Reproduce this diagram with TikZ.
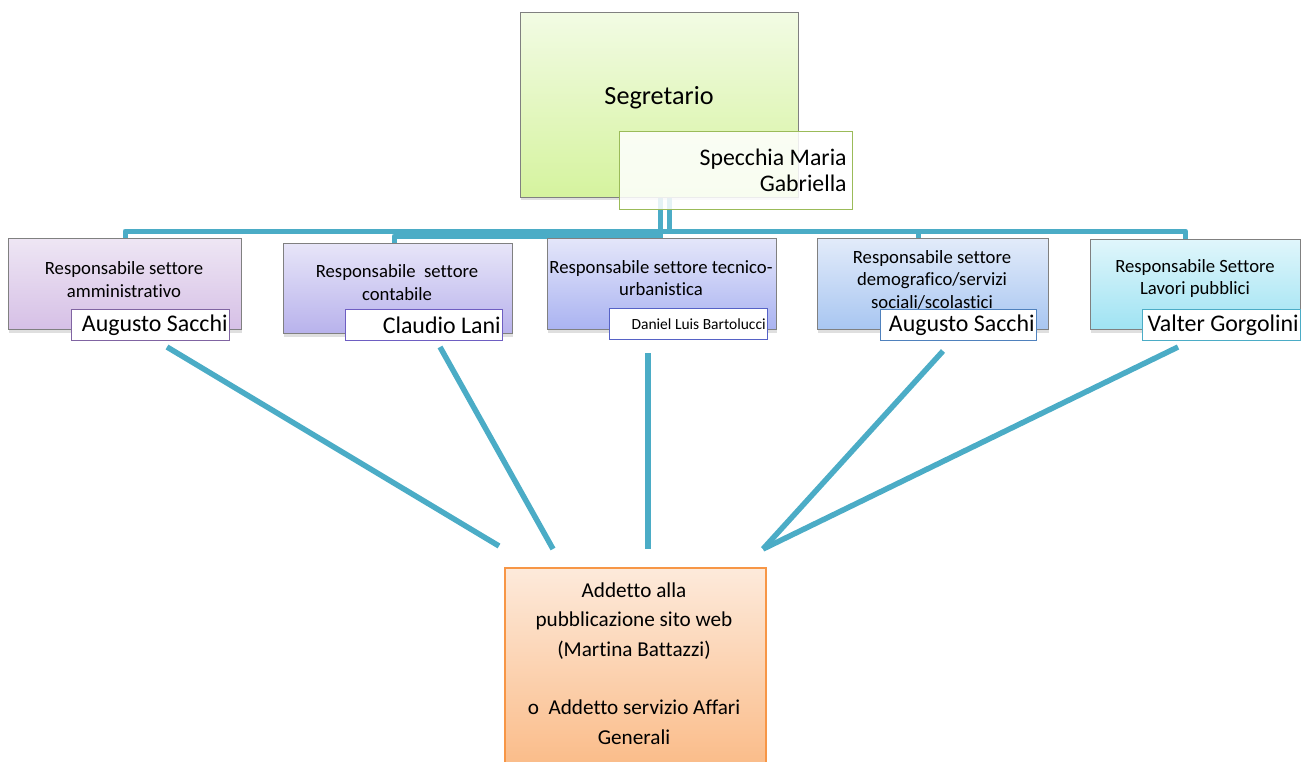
\documentclass[tikz,border=0pt]{standalone}
\usepackage{fontspec}
\setmainfont{Carlito}[Ligatures=NoCommon]
\usetikzlibrary{shadows,backgrounds}

\definecolor{linkc}{HTML}{4BACC6}
\definecolor{segtop}{HTML}{F2FBE4}
\definecolor{segbot}{HTML}{D5F39E}
\definecolor{segline}{HTML}{9BBB59}
\definecolor{amtop}{HTML}{EEE6F4}
\definecolor{ambot}{HTML}{D6C0E6}
\definecolor{amline}{HTML}{8064A2}
\definecolor{cotop}{HTML}{E7E5F8}
\definecolor{cobot}{HTML}{B8B2EC}
\definecolor{coline}{HTML}{6E5EC2}
\definecolor{tetop}{HTML}{E4E6FA}
\definecolor{tebot}{HTML}{AAB3F1}
\definecolor{teline}{HTML}{5662C6}
\definecolor{detop}{HTML}{E2EBFA}
\definecolor{debot}{HTML}{A8C6F1}
\definecolor{deline}{HTML}{4F81BD}
\definecolor{latop}{HTML}{E0F6FB}
\definecolor{labot}{HTML}{9FE3F3}
\definecolor{laline}{HTML}{4BACC6}
\definecolor{adtop}{HTML}{FDEADB}
\definecolor{adbot}{HTML}{FAB882}
\definecolor{adline}{HTML}{F79646}

\begin{document}
\begin{tikzpicture}[x=1pt,y=-1pt,
  box/.style={draw=black!50, line width=1pt, anchor=north west, inner sep=0pt,
    drop shadow={shadow xshift=0pt, shadow yshift=-3pt, opacity=0.25}},
  boxtext/.style={align=center, font=\fontsize{18.7}{22.5}\selectfont},
  namebox/.style={draw, line width=1.3pt, fill=white, anchor=north west,
    inner xsep=2pt, inner ysep=0pt, minimum height=31pt, align=flush right,
    font=\fontsize{23.9}{26}\selectfont},
  link/.style={draw=linkc, line width=5pt, line join=round},
  spoke/.style={draw=linkc, line width=5.5pt}]

  \useasboundingbox (0,0) rectangle (1303,762);

  \node[box, top color=segtop, bottom color=segbot, minimum width=278pt,
    minimum height=185pt] (seg) at (520,12) {};
  \node[font=\fontsize{26.2}{28}\selectfont] (segt) at (659,98) {Segretario};

  \node[box, top color=amtop, bottom color=ambot, minimum width=233pt,
    minimum height=91pt] (s1) at (8,238) {};
  \node[box, top color=cotop, bottom color=cobot, minimum width=229pt,
    minimum height=90pt] (s2) at (283,243) {};
  \node[box, top color=tetop, bottom color=tebot, minimum width=229pt,
    minimum height=91pt] (s3) at (547,238) {};
  \node[box, top color=detop, bottom color=debot, minimum width=231pt,
    minimum height=91pt] (s4) at (817,238) {};
  \node[box, top color=latop, bottom color=labot, minimum width=210pt,
    minimum height=90pt] (s5) at (1090,239) {};

  \coordinate (hubL) at (660,197);
  \coordinate (hubR) at (669,197);
  \begin{scope}[on background layer]
    \draw[link] (hubR) -- ++(0,34) -| (s1.north);
    \draw[link] (hubL) -- ++(0,39) -| ([xshift=-4pt]s2.north);
    \draw[link] (hubL) -- (hubL |- s3.north);
    \draw[link] (hubR) -- ++(0,34) -| ([xshift=-15pt]s4.north);
    \draw[link] (hubR) -- ++(0,34) -| ([xshift=-10pt]s5.north);
  \end{scope}

  \node[draw=segline, line width=1.3pt, fill=white, fill opacity=0.85,
    text opacity=1, anchor=north west, minimum width=233pt, minimum height=78pt,
    inner xsep=6pt, inner ysep=0pt, text width=221pt, align=flush right,
    font=\fontsize{23.8}{26}\selectfont] (spec) at (619,131)
    {Specchia Maria\\Gabriella};

  \node[boxtext] (s1t) at (124,279.5) {Responsabile settore\\amministrativo};
  \node[boxtext] (s2t) at (397,282.5) {Responsabile\ \ settore\\contabile};
  \node[boxtext] (s3t) at (661,278) {Responsabile settore tecnico-\\urbanistica};
  \node[boxtext] (s4t) at (932,279.5)
    {Responsabile settore\\demografico/servizi\\sociali/scolastici};
  \node[boxtext] (s5t) at (1195,278.5) {Responsabile Settore\\Lavori pubblici};

  \node[namebox, draw=amline, text width=154pt] (n1) at (71,309) {Augusto Sacchi};
  \node[namebox, draw=coline, text width=153pt] (n2) at (345,309) {Claudio Lani};
  \node[namebox, draw=teline, text width=154pt,
    font=\fontsize{15.5}{17}\selectfont] (n3) at (609,308) {Daniel Luis Bartolucci};
  \node[namebox, draw=deline, text width=152pt] (n4) at (880,309) {Augusto Sacchi};
  \node[namebox, draw=laline, text width=154pt] (n5) at (1142,309) {Valter Gorgolini};

  \coordinate (p1) at (167,347);
  \coordinate (p2) at (440,347);
  \coordinate (p3) at (648,353);
  \coordinate (p4) at (943,351);
  \coordinate (p5) at (1178,347);
  \coordinate (q1) at (499,546);
  \coordinate (q2) at (553,549);
  \coordinate (q3) at (648,549);
  \coordinate (q4) at (763,549);

  \draw[spoke] (p1) -- (q1);
  \draw[spoke] (p2) -- (q2);
  \draw[spoke] (p3) -- (q3);
  \draw[spoke] (p4) -- (q4);
  \draw[spoke] (p5) -- (q4);

  \node[box, draw=adline, line width=1.5pt, top color=adtop, bottom color=adbot,
    minimum width=261pt, minimum height=215pt] (ad) at (504,567) {};
  \node[align=center, font=\fontsize{21.2}{29.3}\selectfont] (adt) at (634,663.5)
    {Addetto alla\\pubblicazione sito web\\(Martina Battazzi)\\[29.3pt]
     o\ \ Addetto servizio Affari\\Generali};
\end{tikzpicture}
\end{document}
